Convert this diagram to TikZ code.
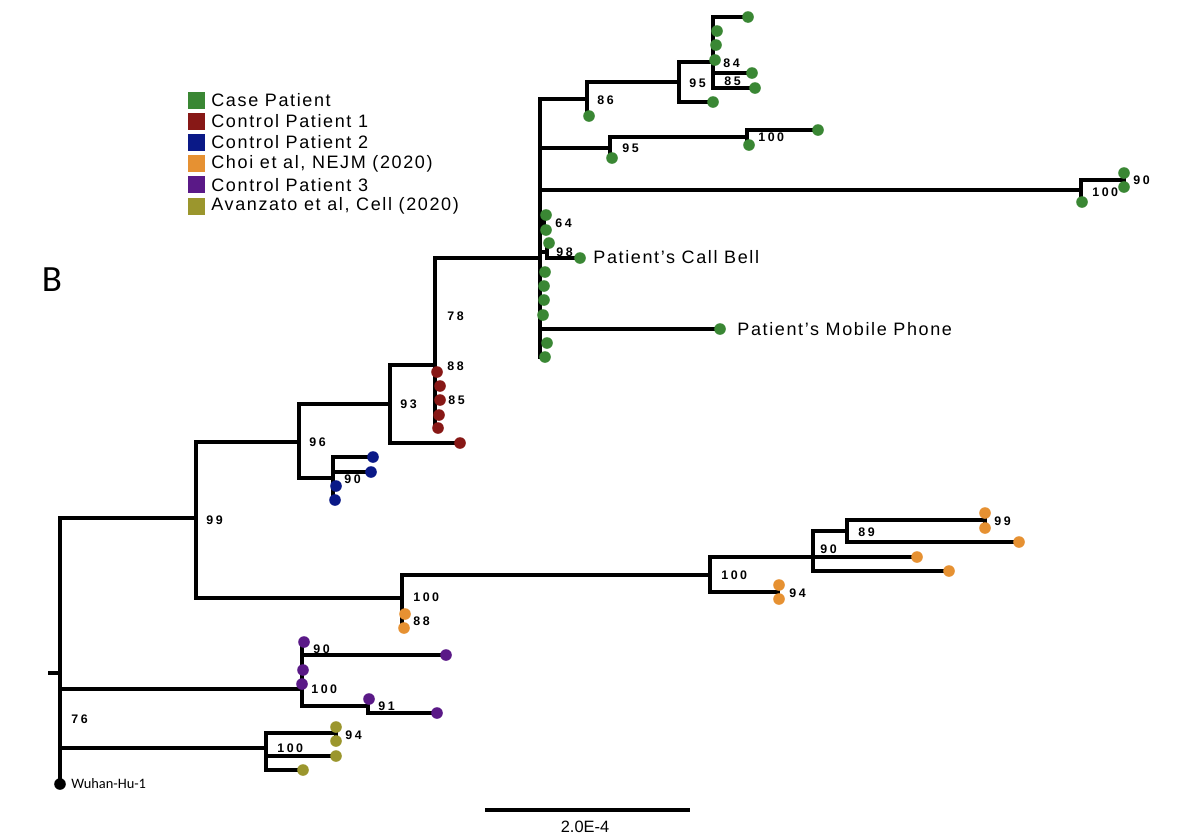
\documentclass[tikz,border=0pt]{standalone}
\usepackage{fontspec}
\setmainfont{Liberation Sans}
\newfontfamily\spacedfont[LetterSpace=9]{Liberation Sans}
\newfontfamily\bootfont[LetterSpace=20]{Liberation Sans}
\newfontfamily\calfont{Carlito}
\pgfdeclarelayer{bg}
\pgfsetlayers{bg,main}
\definecolor{cgreen}{RGB}{58,135,52}
\definecolor{cred}{RGB}{135,24,22}
\definecolor{cblue}{RGB}{10,25,135}
\definecolor{corange}{RGB}{230,145,50}
\definecolor{cpurple}{RGB}{90,25,135}
\definecolor{colive}{RGB}{155,150,45}
\tikzset{
 edge/.style={line width=2.45pt, line join=miter, line cap=rect},
 tip/.style={circle, inner sep=0pt, minimum size=5.8pt, fill=#1, draw=none},
 boot/.style={font=\bootfont\bfseries\fontsize{6.2}{7}\selectfont, anchor=west, inner sep=0pt},
 lab/.style={font=\spacedfont\fontsize{9}{11}\selectfont, anchor=west, inner sep=0pt},
 legsq/.style={fill=#1, minimum size=8.5pt, inner sep=0pt, draw=none},
}
\begin{document}
\begin{tikzpicture}[x=0.5pt,y=-0.5pt]
\useasboundingbox (0,0) rectangle (1200,836);
% internal nodes
\coordinate (rtick) at (50,673);
\coordinate (r) at (60,673);
\coordinate (n99) at (196,518);
\coordinate (n96) at (299,442);
\coordinate (n93) at (390,404);
\coordinate (nb90) at (333,478);
\coordinate (n88) at (435,365);
\coordinate (ng) at (540,258);
\coordinate (n86) at (587,99);
\coordinate (n95a) at (679,82);
\coordinate (n84) at (713,62);
\coordinate (n95b) at (610,148);
\coordinate (n100a) at (747,137);
\coordinate (nr100) at (1081,190);
\coordinate (nr90) at (1124,180);
\coordinate (n64) at (544,222);
\coordinate (n98) at (547,252);
\coordinate (no) at (402,598);
\coordinate (no100) at (710,575);
\coordinate (no94) at (778,592);
\coordinate (no90) at (813,557);
\coordinate (no89) at (847,531);
\coordinate (no99) at (985,520);
\coordinate (np) at (302,689);
\coordinate (np91) at (368,706);
\coordinate (nol) at (266,748);
\coordinate (nol94) at (336,733);
% tips
\node[tip=black] (wu) at (60,784) {};
\foreach \n/\x/\y in {b1/373/457,b2/371/472,b3/336/486,b4/335/500}
  \node[tip=cblue] (\n) at (\x,\y) {};
\foreach \n/\x/\y in {r1/437/372,r2/440/386,r3/440/400,r4/439/415,r5/438/428,r6/460/443}
  \node[tip=cred] (\n) at (\x,\y) {};
\foreach \n/\x/\y in {g1/748/17,g2/717/31,g3/716/45,g4/715/60,g5/752/73,g6/755/88,g7/713/102,g8/589/116,g9/818/130,g10/749/145,g11/612/158,g12/1124/173,g13/1124/187,g14/1082/202,g15/546/215,g16/546/230,g17/549/243,cb/580/258,g18/545/272,g19/544/286,g20/544/300,g21/543/315,mp/720/329,g22/547/343,g23/545/357}
  \node[tip=cgreen] (\n) at (\x,\y) {};
\foreach \n/\x/\y in {o1/405/614,o2/404/628,o3/779/585,o4/779/599,o5/917/557,o6/949/571,o7/985/513,o8/985/528,o9/1019/542}
  \node[tip=corange] (\n) at (\x,\y) {};
\foreach \n/\x/\y in {p1/304/642,p2/446/655,p3/303/670,p4/302/684,p5/369/699,p6/437/713}
  \node[tip=cpurple] (\n) at (\x,\y) {};
\foreach \n/\x/\y in {v1/336/727,v2/336/741,v3/336/756,v4/303/770}
  \node[tip=colive] (\n) at (\x,\y) {};
% edges
\begin{pgfonlayer}{bg}
\draw[edge] (rtick) -- (r);
\foreach \p/\c in {r/n99,r/np,r/nol,r/wu,
  n99/n96,n99/no,n96/n93,n96/nb90,nb90/b1,nb90/b2,nb90/b3,nb90/b4,
  n93/n88,n93/r6,n88/ng,n88/r1,n88/r2,n88/r3,n88/r4,n88/r5,
  ng/n86,ng/n95b,ng/nr100,ng/n64,ng/n98,ng/g18,ng/g19,ng/g20,ng/g21,ng/mp,ng/g22,ng/g23,
  n86/n95a,n86/g8,n95a/n84,n95a/g7,n84/g1,n84/g2,n84/g3,n84/g4,n84/g5,n84/g6,
  n95b/n100a,n95b/g11,n100a/g9,n100a/g10,nr100/nr90,nr100/g14,nr90/g12,nr90/g13,
  n64/g15,n64/g16,n98/g17,n98/cb,
  no/no100,no/o1,no/o2,no100/no90,no100/no94,no94/o3,no94/o4,
  no90/no89,no90/o5,no90/o6,no89/no99,no89/o9,no99/o7,no99/o8,
  np/p1,np/p2,np/p3,np/p4,np/np91,np91/p5,np91/p6,
  nol/nol94,nol/v3,nol/v4,nol94/v1,nol94/v2}
  \draw[edge] (\p.center) |- (\c.center);
\end{pgfonlayer}
% bootstrap labels
\foreach \n/\x/\y/\t in {l99/206/520/99,l96/309/442/96,lb90/344/479/90,l93/400/404/93,
  l78/447/316/78,l88/447/366/88,l85/448/400/85,l64/555/223/64,l98/556/252/98,
  l86/597/100/86,l95a/689/83/95,l84/723/63/84,l85g/724/81/85,l95b/622/148/95,
  l100a/758/137/100,l100r/1092/192/100,l90r/1133/180/90,
  l100o/413/597/100,l88o/413/621/88,l100o2/721/575/100,l94o/789/593/94,
  l90o/820/549/90,l89o/858/532/89,l99o/994/521/99,
  l90p/313/649/90,l100p/311/689/100,l91p/378/706/91,
  l94v/345/735/94,l100v/277/748/100,l76/71/719/76}
  \node[boot] (\n) at (\x,\y) {\t};
% tip labels
\node[lab] (cbl) at (593,257) {Patient’s Call Bell};
\node[lab] (mpl) at (737,329) {Patient’s Mobile Phone};
\node[anchor=west, inner sep=0pt, font=\calfont\fontsize{7.2}{8}\selectfont] (wul) at (71,784) {Wuhan-Hu-1};
% legend
\foreach \i/\c/\t in {0/cgreen/Case Patient,1/cred/Control Patient 1,2/cblue/Control Patient 2,
  3/corange/{Choi et al, NEJM (2020)},4/cpurple/Control Patient 3,5/colive/{Avanzato et al, Cell (2020)}}{
  \node[legsq=\c] (sq\i) at (196,100+21.2*\i) {};
  \node[lab] (lt\i) at (211,100+21.2*\i) {\t};
}
% panel letter
\node[font=\calfont\fontsize{18.5}{20}\selectfont, inner sep=0pt] (B) at (52,280) {B};
% scale bar
\coordinate (sb1) at (485,810);
\coordinate (sb2) at (690,810);
\draw[line width=2.3pt] (sb1) -- (sb2);
\node[font=\fontsize{8.2}{10}\selectfont, inner sep=0pt, anchor=north] (sbl) at (585,821) {2.0E-4};
\end{tikzpicture}
\end{document}
